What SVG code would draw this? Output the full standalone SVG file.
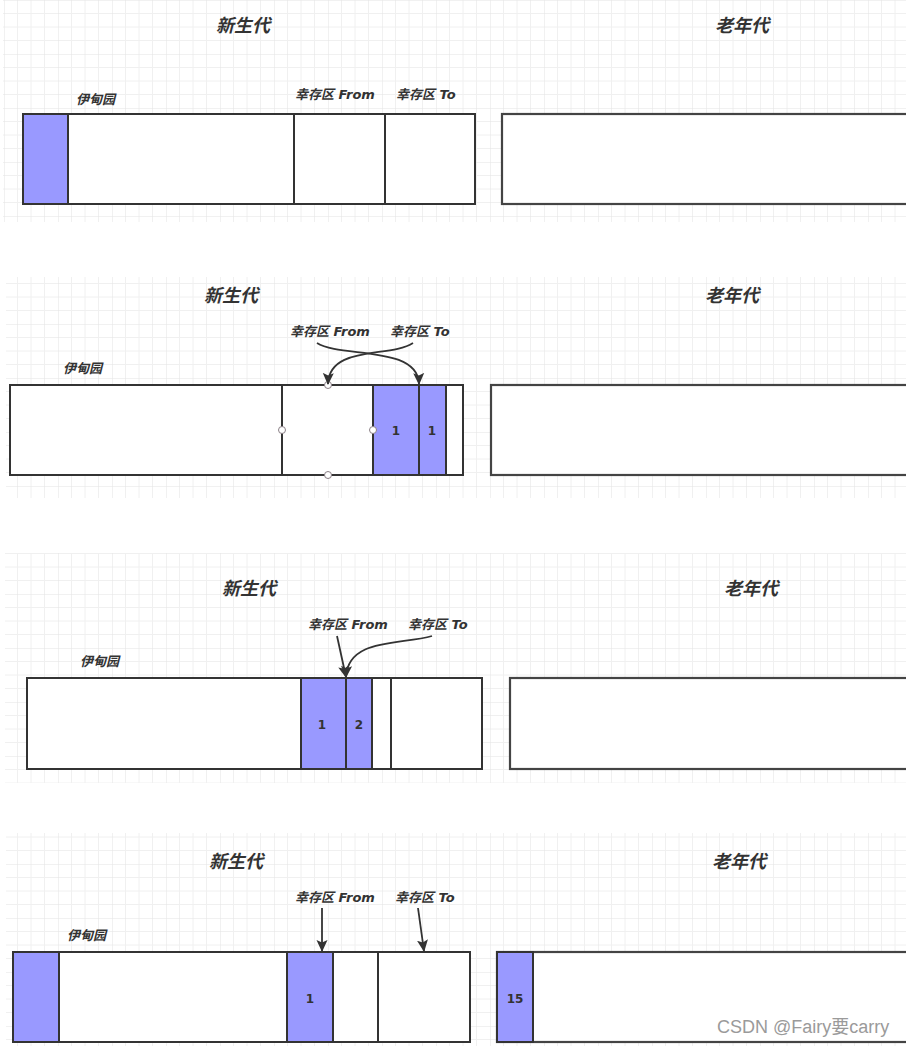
<svg xmlns="http://www.w3.org/2000/svg" width="906" height="1046" viewBox="0 0 906 1046">
<defs>
<pattern id="grid" patternUnits="userSpaceOnUse" x="4" y="0" width="54" height="54">
<path d="M13.5 0V54M27 0V54M40.5 0V54M0 13.5H54M0 27H54M0 40.5H54" fill="none" stroke="#f0f0f0" stroke-width="1"/>
<path d="M0 0V54M0 0H54" fill="none" stroke="#e4e4e4" stroke-width="1"/>
</pattern>
<marker id="ah" viewBox="0 0 12 12" refX="11" refY="6" markerWidth="12" markerHeight="12" markerUnits="userSpaceOnUse" orient="auto">
<path d="M0 0.5L12 6L0 11.5L2.5 6Z" fill="#333"/>
</marker>
<style>
.title{font-family:"Noto Sans","Noto Sans CJK SC",sans-serif;font-size:18px;font-weight:bold;font-style:italic;fill:#333;text-anchor:middle}
.lbl{font-family:"DejaVu Sans","Noto Sans CJK SC",sans-serif;font-size:13px;font-weight:bold;font-style:italic;fill:#333}
.num{font-family:"DejaVu Sans","Liberation Sans",sans-serif;font-size:12px;font-weight:bold;fill:#333;text-anchor:middle}
.box{fill:#fff;stroke:#333;stroke-width:2}
.old{fill:#fff;stroke:#444;stroke-width:2.2}
.obj{fill:#9999ff;stroke:#333;stroke-width:2}
.div{stroke:#333;stroke-width:2}
.arrow{fill:none;stroke:#333;stroke-width:1.8;marker-end:url(#ah)}
.handle{fill:#fff;stroke:#8a7f86;stroke-width:1}
.wm{font-family:"Liberation Sans","Noto Sans CJK SC",sans-serif;font-size:18px;fill:#9a9a9a}
</style>
</defs>
<rect width="906" height="1046" fill="#fff"/>
<!-- grid backgrounds -->
<rect x="3" y="0" width="903" height="222" fill="url(#grid)"/>
<rect x="6" y="277" width="900" height="221" fill="url(#grid)"/>
<rect x="5" y="553" width="901" height="230" fill="url(#grid)"/>
<rect x="6" y="833" width="900" height="213" fill="url(#grid)"/>

<!-- Panel 1 -->
<g id="p1-young">
<rect class="box" x="23" y="114" width="452" height="90"/>
<rect class="obj" x="23" y="114" width="45" height="90"/>
<line class="div" x1="294" y1="114" x2="294" y2="204"/>
<line class="div" x1="385" y1="114" x2="385" y2="204"/>
<text class="title" x="243" y="32">新生代</text>
<text class="lbl" x="76" y="104">伊甸园</text>
<text class="lbl" x="295" y="99">幸存区 From</text>
<text class="lbl" x="396" y="99">幸存区 To</text>
</g>
<g id="p1-old">
<rect class="old" x="502" y="114" width="410" height="90"/>
<text class="title" x="742" y="32">老年代</text>
</g>

<!-- Panel 2 -->
<g id="p2-young">
<rect class="box" x="10" y="385" width="453" height="90"/>
<line class="div" x1="282" y1="385" x2="282" y2="475"/>
<rect class="obj" x="373" y="385" width="46" height="90"/>
<rect class="obj" x="419" y="385" width="27" height="90"/>
<text class="num" x="396" y="435">1</text>
<text class="num" x="432" y="435">1</text>
<circle class="handle" cx="328" cy="385" r="3.5"/>
<circle class="handle" cx="282" cy="430" r="3.5"/>
<circle class="handle" cx="373" cy="430" r="3.5"/>
<circle class="handle" cx="328" cy="475" r="3.5"/>
<text class="title" x="231" y="302">新生代</text>
<text class="lbl" x="63" y="373">伊甸园</text>
<text class="lbl" x="290" y="336">幸存区 From</text>
<text class="lbl" x="390" y="336">幸存区 To</text>
</g>
<g id="p2-old">
<rect class="old" x="491" y="385" width="420" height="90"/>
<text class="title" x="732" y="302">老年代</text>
</g>

<!-- Panel 3 -->
<g id="p3-young">
<rect class="box" x="27" y="678" width="455" height="91"/>
<rect class="obj" x="301" y="678" width="45" height="91"/>
<rect class="obj" x="346" y="678" width="26" height="91"/>
<line class="div" x1="391" y1="678" x2="391" y2="769"/>
<text class="num" x="322" y="729">1</text>
<text class="num" x="359" y="729">2</text>
<text class="title" x="249" y="595">新生代</text>
<text class="lbl" x="80" y="666">伊甸园</text>
<text class="lbl" x="308" y="629">幸存区 From</text>
<text class="lbl" x="408" y="629">幸存区 To</text>
</g>
<g id="p3-old">
<rect class="old" x="510" y="678" width="400" height="91"/>
<text class="title" x="751" y="595">老年代</text>
</g>

<!-- Panel 4 -->
<g id="p4-young">
<rect class="box" x="13" y="952" width="457" height="90"/>
<rect class="obj" x="13" y="952" width="46" height="90"/>
<rect class="obj" x="287" y="952" width="46" height="90"/>
<line class="div" x1="378" y1="952" x2="378" y2="1042"/>
<text class="num" x="310" y="1003">1</text>
<text class="title" x="236" y="868">新生代</text>
<text class="lbl" x="67" y="940">伊甸园</text>
<text class="lbl" x="295" y="902">幸存区 From</text>
<text class="lbl" x="395" y="902">幸存区 To</text>
</g>
<g id="p4-old">
<rect class="old" x="497" y="952" width="415" height="90"/>
<rect class="obj" x="497" y="952" width="36" height="90"/>
<text class="num" x="515" y="1003">15</text>
<text class="title" x="739" y="868">老年代</text>
</g>

<!-- connectors -->
<g id="connectors">
<path class="arrow" d="M317 343C340 358 418 345 419 384"/>
<path class="arrow" d="M413 343C390 358 329 345 328 384"/>
<path class="arrow" d="M337 636L346 677"/>
<path class="arrow" d="M432 636C400 645 348 638 346 677"/>
<path class="arrow" d="M322 908L322 951"/>
<path class="arrow" d="M418 908L424 951"/>
</g>

<text class="wm" x="717" y="1033">CSDN @Fairy要carry</text>
</svg>
